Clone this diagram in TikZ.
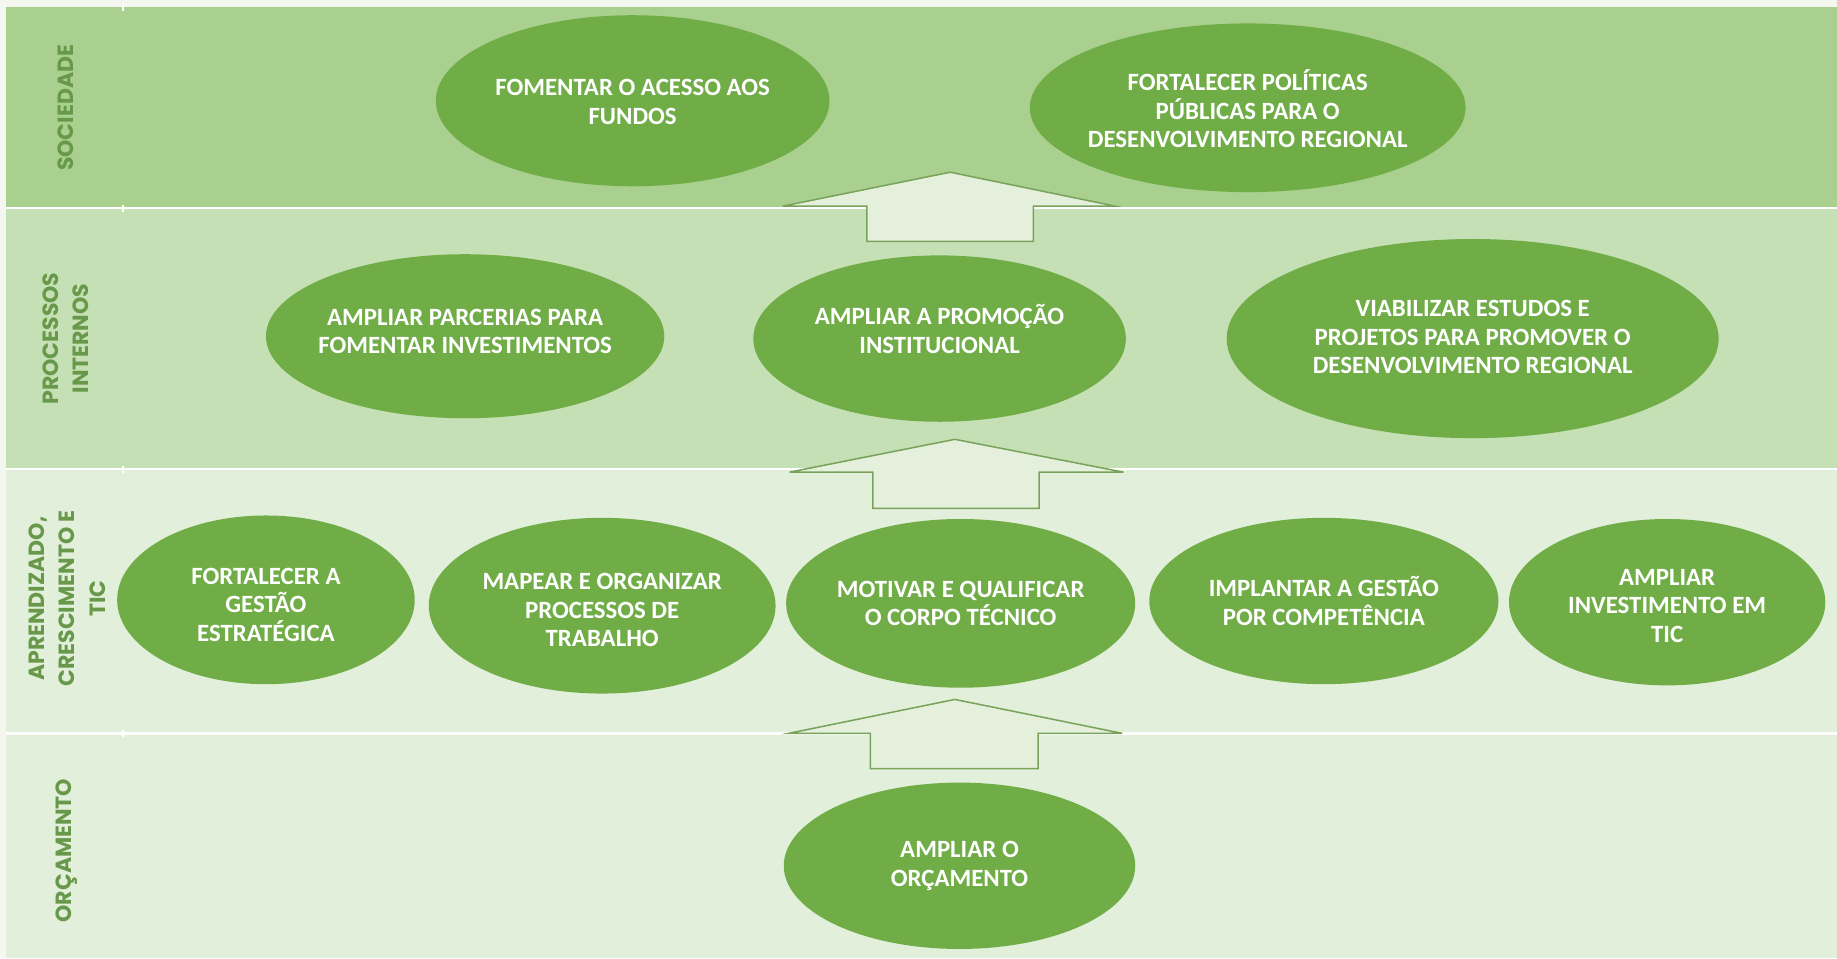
\documentclass[tikz,border=0pt]{standalone}
\usepackage{fontspec}
\setmainfont{Carlito}
\newfontfamily\lblfont{Poppins}
\usetikzlibrary{shapes.geometric}
\definecolor{bgwhite}{HTML}{F3F7F0}
\definecolor{bandA}{HTML}{A9D08E}
\definecolor{bandB}{HTML}{C5E0B4}
\definecolor{bandC}{HTML}{E2EFDA}
\definecolor{goalgreen}{HTML}{70AD47}
\definecolor{lblgreen}{HTML}{689849}
\definecolor{arrowline}{HTML}{79A35A}
\definecolor{arrowfill}{HTML}{E4F0DC}
\begin{document}
\begin{tikzpicture}[x=1pt,y=-1pt,
  goal/.style={ellipse, fill=goalgreen, inner sep=0pt, outer sep=0pt},
  goaltext/.style={text=white, font=\bfseries\fontsize{21.2}{24.3}\selectfont, align=center, inner sep=0pt},
  lanetext/.style={text=lblgreen, font=\lblfont\bfseries\fontsize{18.8}{26}\selectfont, align=center, rotate=90, inner sep=0pt},
  blockarrow/.style={draw=arrowline, fill=arrowfill, line width=1.3pt, line join=miter},
  sepline/.style={draw=white, line width=2.2pt},
  tick/.style={draw=white, line width=1.5pt}]

\useasboundingbox (0,0) rectangle (1568,818);
\fill[bgwhite] (0,0) rectangle (1568,818);

% bands
\fill[bandA] (5,6) rectangle (1568,177.5);
\fill[bandB] (5,177.5) rectangle (1568,400.5);
\fill[bandC] (5,400.5) rectangle (1568,626);
\fill[bandC] (5,626) rectangle (1568,818);

% separators
\draw[sepline] (5,177.5) -- (1568,177.5);
\draw[sepline] (5,400.5) -- (1568,400.5);
\draw[sepline] (5,626) -- (1568,626);
\draw[tick] (105,3) -- (105,9);
\draw[tick] (105,175) -- (105,181);
\draw[tick] (105,398) -- (105,404);
\draw[tick] (105,623) -- (105,629);

% lane labels
\node[lanetext] (lsoc) at (56,92) {SOCIEDADE};
\node[lanetext] (lproc) at (56,289) {PROCESSOS\\INTERNOS};
\node[lanetext] (lapr) at (57,511) {APRENDIZADO,\\CRESCIMENTO E\\TIC};
\node[lanetext] (lorc) at (57,726) {ORÇAMENTO};

% block arrows
\filldraw[blockarrow] (811,147) -- (952,176) -- (882,176) -- (882,206) -- (740,206) -- (740,176) -- (668,176) -- cycle;
\filldraw[blockarrow] (815,375) -- (959,403) -- (887,403) -- (887,434) -- (745,434) -- (745,403) -- (674,403) -- cycle;
\filldraw[blockarrow] (815,597) -- (958,626) -- (886,626) -- (886,656) -- (743,656) -- (743,626) -- (673,626) -- cycle;

% goals: sociedade
\node[goal, minimum width=336pt, minimum height=146pt] (g1) at (540,86) {};
\node[goaltext] (t1) at ([yshift=-1pt]g1.center) {FOMENTAR O ACESSO AOS\\FUNDOS};
\node[goal, minimum width=372pt, minimum height=144pt] (g2) at (1065,92) {};
\node[goaltext] (t2) at ([yshift=-1pt]g2.center) {FORTALECER POLÍTICAS\\PÚBLICAS PARA O\\DESENVOLVIMENTO REGIONAL};

% goals: processos internos
\node[goal, minimum width=340pt, minimum height=140pt] (g3) at (397,287) {};
\node[goaltext] (t3) at ([yshift=4pt]g3.center) {AMPLIAR PARCERIAS PARA\\FOMENTAR INVESTIMENTOS};
\node[goal, minimum width=318pt, minimum height=142pt] (g4) at (802,289) {};
\node[goaltext] (t4) at ([yshift=8pt]g4.center) {AMPLIAR A PROMOÇÃO\\INSTITUCIONAL};
\node[goal, minimum width=420pt, minimum height=170pt] (g5) at (1257,289) {};
\node[goaltext] (t5) at ([yshift=1pt]g5.center) {VIABILIZAR ESTUDOS E\\PROJETOS PARA PROMOVER O\\DESENVOLVIMENTO REGIONAL};

% goals: aprendizado
\node[goal, minimum width=254pt, minimum height=144pt] (g6) at (227,512) {};
\node[goaltext] (t6) at ([yshift=-4pt]g6.center) {FORTALECER A\\GESTÃO\\ESTRATÉGICA};
\node[goal, minimum width=296pt, minimum height=150pt] (g7) at (514,517) {};
\node[goaltext] (t7) at ([yshift=-4pt]g7.center) {MAPEAR E ORGANIZAR\\PROCESSOS DE\\TRABALHO};
\node[goal, minimum width=298pt, minimum height=144pt] (g8) at (820,515) {};
\node[goaltext] (t8) at (g8) {MOTIVAR E QUALIFICAR\\O CORPO TÉCNICO};
\node[goal, minimum width=298pt, minimum height=142pt] (g9) at (1130,513) {};
\node[goaltext] (t9) at (g9) {IMPLANTAR A GESTÃO\\POR COMPETÊNCIA};
\node[goal, minimum width=270pt, minimum height=142pt] (g10) at (1423,514) {};
\node[goaltext] (t10) at ([yshift=-3pt]g10.center) {AMPLIAR\\INVESTIMENTO EM\\TIC};

% goals: orcamento
\node[goal, minimum width=300pt, minimum height=142pt] (g11) at (819,739) {};
\node[goaltext] (t11) at (g11) {AMPLIAR O\\ORÇAMENTO};
\end{tikzpicture}
\end{document}
